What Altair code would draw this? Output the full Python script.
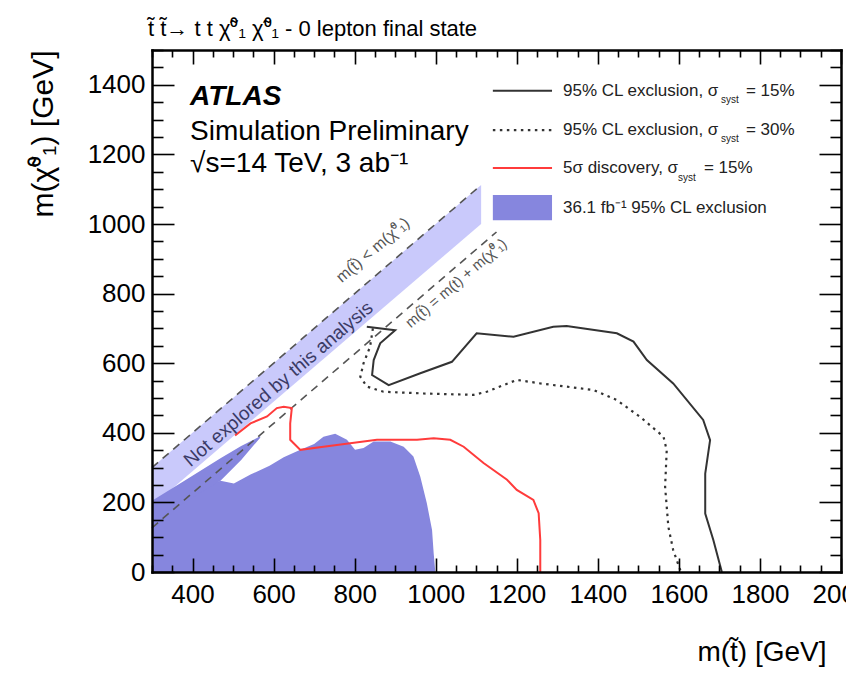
import altair as alt
import pandas as pd

# ---------------- data (GeV) ----------------
band_x = [300, 1112]
band_hi = [300, 1112]
band_lo = [190, 1000]

kin_x = [300, 1110]          # m(stop) = m(chi)
kin_y = [300, 1110]
top_x = [300, 1150]          # m(stop) = m(t) + m(chi)
top_y = [127, 977]

excl_x = [300, 380, 469, 502, 543, 590, 625, 666, 700, 723, 752, 781, 801, 822,
          847, 888, 921, 945, 962, 978, 991, 995, 999]
excl_y = [190, 228, 262, 254, 280, 305, 330, 351, 368, 389, 397, 380, 351, 356,
          375, 375, 360, 332, 274, 198, 121, 54, 0]

tongue_x = [300, 380, 469, 520, 567]
tongue_hi = [205, 262, 327, 362, 390]
tongue_lo = [150, 200, 262, 322, 386]

cl15_x = [830, 900, 863, 847, 843, 884, 962, 1040, 1101, 1192, 1290, 1323, 1447,
          1488, 1521, 1586, 1660, 1677, 1665, 1665, 1685, 1706]
cl15_y = [705, 695, 657, 609, 566, 537, 571, 604, 686, 676, 705, 707, 686,
          662, 609, 542, 437, 379, 283, 168, 92, 0]

cl30_x = [845, 838, 822, 814, 830, 871, 970, 1093, 1126, 1200, 1258, 1389, 1447,
          1504, 1562, 1570, 1566, 1574, 1586, 1605]
cl30_y = [700, 647, 600, 561, 533, 518, 513, 509, 518, 552, 542, 523, 494,
          446, 389, 350, 245, 130, 63, 0]

disc_x = [505, 543, 584, 608, 625, 645, 641, 641, 666, 723, 789, 855, 888, 954,
          995, 1036, 1069, 1118, 1176, 1200, 1241, 1254, 1258, 1258]
disc_y = [392, 427, 447, 471, 475, 471, 427, 380, 351, 360, 370, 380, 380, 380,
          384, 380, 360, 313, 265, 236, 207, 169, 92, 0]

x_major = list(range(400, 2001, 200))
y_major = list(range(0, 1401, 200))
x_ticks = list(range(300, 2001, 50))
y_ticks = list(range(0, 1501, 50))

legend_main = ["95% CL exclusion, \u03c3", "95% CL exclusion, \u03c3",
               "5\u03c3 discovery, \u03c3", "36.1 fb\u207b\u00b9 95% CL exclusion"]
legend_suffix = ["= 15%", "= 30%", "= 15%"]
legend_sub = "syst"

atlas_lines = ["Simulation Preliminary", "\u221as=14 TeV, 3 ab\u207b\u00b9"]

title_text = ("t\u0303 t\u0303\u2192 t t \u03c7\u0303\u2070\u2081 \u03c7\u0303\u2070\u2081"
              " - 0 lepton final state")
x_title = "m(t\u0303) [GeV]"
y_title = "m(\u03c7\u0303\u2070\u2081) [GeV]"

# ---------------- layout ----------------
W, H = 689, 522
FONT = "Liberation Sans"
PURPLE = "#8686de"
LIGHT = "#c9c9fb"
RED = "#ff3b3b"
LINE = "#333333"

xs = alt.Scale(domain=[300, 2000], nice=False, zero=False)
ys = alt.Scale(domain=[0, 1500], nice=False, zero=False)

tick_x_size = {"condition": {"test": "datum.value % 200 === 0", "value": 14}, "value": 7}
tick_y_size = {"condition": {"test": "datum.value % 200 === 0", "value": 22}, "value": 11}

ax_x_lab = alt.Axis(orient="bottom", values=x_major, format="d", ticks=False, domain=False,
                    grid=False, labelFlush=False, labelOverlap=False,
                    labelFontSize=26, labelColor="black", labelPadding=9, labelFont=FONT,
                    title=x_title, titleFont=FONT, titleFontSize=28, titleFontWeight="normal",
                    titleColor="black", titleAnchor="end", titleAlign="right",
                    titleBaseline="alphabetic", titleX=674, titleY=88)
ax_y_lab = alt.Axis(orient="left", values=y_major, format="d", ticks=False, domain=False,
                    grid=False, labelFlush=False, labelOverlap=False,
                    labelFontSize=26, labelColor="black", labelPadding=7, labelFont=FONT,
                    title=y_title, titleFont=FONT, titleFontSize=30, titleFontWeight="normal",
                    titleColor="black", titleAnchor="end", titleAngle=270, titleAlign="right",
                    titleBaseline="alphabetic", titleX=-100, titleY=0)


def inner_axis(orient, offset, vals, size):
    return alt.Axis(orient=orient, offset=offset, values=vals, labels=False, grid=False,
                    domain=True, domainColor="black", domainWidth=2.5, domainCap="square",
                    tickSize=size, tickColor="black", tickWidth=1.6, title=None, zindex=2)


ax_x_in_bottom = inner_axis("top", -H, x_ticks, tick_x_size)
ax_x_in_top = inner_axis("bottom", -H, x_ticks, tick_x_size)
ax_y_in_left = inner_axis("right", -W, y_ticks, tick_y_size)
ax_y_in_right = inner_axis("left", -W, y_ticks, tick_y_size)


def X(field, axis=None):
    return alt.X(field, type="quantitative", scale=xs, axis=axis)


def Y(field, axis=None):
    return alt.Y(field, type="quantitative", scale=ys, axis=axis)


# ---------------- layers ----------------
band = alt.Chart(pd.DataFrame({"x": band_x, "hi": band_hi, "lo": band_lo})).mark_area(
    color=LIGHT).encode(x=X("x", ax_x_lab), y=Y("hi", ax_y_lab), y2="lo:Q")

excl = alt.Chart(pd.DataFrame({"x": excl_x, "y": excl_y})).mark_area(color=PURPLE).encode(
    x=X("x", ax_x_in_bottom), y=Y("y", ax_y_in_left))

tongue = alt.Chart(pd.DataFrame({"x": tongue_x, "hi": tongue_hi, "lo": tongue_lo})).mark_area(
    color=PURPLE).encode(x=X("x", ax_x_in_top), y=Y("hi", ax_y_in_right), y2="lo:Q")


def path(xv, yv, **kw):
    df = pd.DataFrame({"x": xv, "y": yv, "i": range(len(xv))})
    return alt.Chart(df).mark_line(**kw).encode(x=X("x"), y=Y("y"), order="i:Q")


kin = path(kin_x, kin_y, color="#555555", strokeWidth=1.6, strokeDash=[8, 6])
topl = path(top_x, top_y, color="#555555", strokeWidth=1.6, strokeDash=[8, 6])
cl15 = path(cl15_x, cl15_y, color=LINE, strokeWidth=2)
cl30 = path(cl30_x, cl30_y, color=LINE, strokeWidth=2.2, strokeDash=[2.5, 4.5])
disc = path(disc_x, disc_y, color=RED, strokeWidth=2)


def text(df, **kw):
    return alt.Chart(df).mark_text(font=FONT, **kw).encode(x=X("x"), y=Y("y"), text="t:N")


ANG = 319.35
not_expl = text(pd.DataFrame({"x": [612], "y": [540], "t": ["Not explored by this analysis"]}),
                angle=ANG, fontSize=19, color="#3b3b66", align="center", baseline="middle")
kin_lab = text(pd.DataFrame({"x": [845], "y": [925],
                             "t": ["m(t\u0303) < m(\u03c7\u0303\u2070\u2081)"]}),
               angle=ANG, fontSize=16, color="#555555", align="center", baseline="middle")
top_lab = text(pd.DataFrame({"x": [1050], "y": [830],
                             "t": ["m(t\u0303) = m(t) + m(\u03c7\u0303\u2070\u2081)"]}),
               angle=ANG, fontSize=15, color="#555555", align="center", baseline="middle")

atlas = text(pd.DataFrame({"x": [394], "y": [1342], "t": ["ATLAS"]}), fontSize=28,
             fontWeight="bold", fontStyle="italic", color="black", align="left",
             baseline="alphabetic")
atlas_sub = text(pd.DataFrame({"x": [394, 394], "y": [1241, 1149], "t": atlas_lines}),
                 fontSize=28, color="black", align="left", baseline="alphabetic")

# legend
LX0, LX1, LTX = 1141, 1287, 1314
rows_y = [1383, 1270, 1161, 1046]


def leg_line(yv, **kw):
    df = pd.DataFrame({"x": [LX0], "x2": [LX1], "y": [yv]})
    return alt.Chart(df).mark_rule(**kw).encode(x=X("x"), x2="x2:Q", y=Y("y"))


leg1 = leg_line(rows_y[0], color=LINE, strokeWidth=2)
leg2 = leg_line(rows_y[1], color=LINE, strokeWidth=2.2, strokeDash=[2.5, 4.5])
leg3 = leg_line(rows_y[2], color=RED, strokeWidth=2)
leg_box = alt.Chart(pd.DataFrame({"x": [LX0], "x2": [LX1], "y": [1011], "y2": [1083]})).mark_rect(
    color=PURPLE).encode(x=X("x"), x2="x2:Q", y=Y("y"), y2="y2:Q")

leg_txt = text(pd.DataFrame({"x": [LTX] * 4, "y": rows_y, "t": legend_main}),
               fontSize=17, color="#222222", align="left", baseline="middle")
leg_sub_a = text(pd.DataFrame({"x": [LTX] * 2, "y": rows_y[:2], "t": [legend_sub] * 2}),
                 fontSize=10, color="#222222", align="left", baseline="middle", dx=158, dy=9)
leg_suf_a = text(pd.DataFrame({"x": [LTX] * 2, "y": rows_y[:2], "t": legend_suffix[:2]}),
                 fontSize=17, color="#222222", align="left", baseline="middle", dx=183)
leg_sub_b = text(pd.DataFrame({"x": [LTX], "y": [rows_y[2]], "t": [legend_sub]}),
                 fontSize=10, color="#222222", align="left", baseline="middle", dx=115, dy=10)
leg_suf_b = text(pd.DataFrame({"x": [LTX], "y": [rows_y[2]], "t": [legend_suffix[2]]}),
                 fontSize=17, color="#222222", align="left", baseline="middle", dx=141)

chart = alt.layer(
    band, excl, tongue, kin, topl, cl30, cl15, disc,
    not_expl, kin_lab, top_lab, atlas, atlas_sub,
    leg1, leg2, leg3, leg_box, leg_txt, leg_sub_a, leg_suf_a, leg_sub_b, leg_suf_b,
).resolve_axis(x="independent", y="independent").properties(
    width=W, height=H,
    autosize=alt.AutoSizeParams(type="none"),
    padding={"left": 152, "top": 50, "right": 5, "bottom": 101},
    title=alt.TitleParams(text=title_text, anchor="start", frame="group", fontSize=22,
                          font=FONT, fontWeight="normal", color="black", offset=13,
                          baseline="alphabetic", dx=-4, dy=22),
).configure(font=FONT, background="white").configure_view(strokeWidth=0)

chart.save("out.html", embed_options={"renderer": "svg", "actions": False})
